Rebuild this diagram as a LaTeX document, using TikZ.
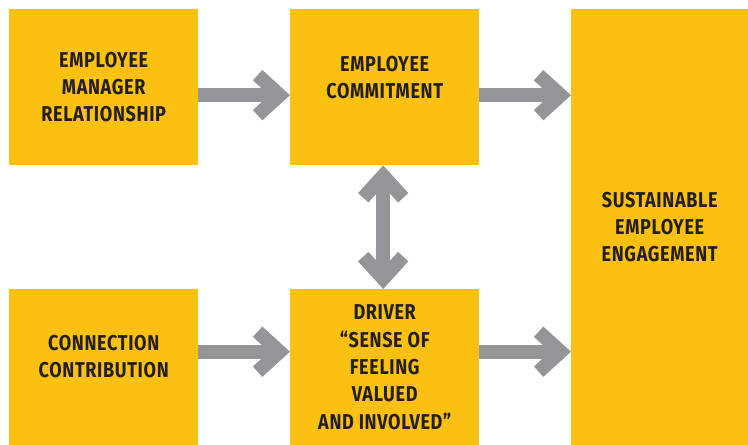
\documentclass[tikz,border=0pt]{standalone}
\usepackage{fontspec}
\setmainfont{Fira Sans}[FakeStretch=0.84, LetterSpace=3]
\usetikzlibrary{arrows.meta}

\definecolor{boxyellow}{HTML}{FCC010}
\definecolor{arrowgray}{HTML}{939598}
\definecolor{boxtext}{HTML}{231F20}

\tikzset{chevron/.tip={Straight Barb[length=22pt, width=40pt]}}

\begin{document}
\begin{tikzpicture}[
		x=1pt, y=-1pt,
		box/.style={fill=boxyellow, anchor=north west, inner sep=0pt,
			minimum width=189pt, minimum height=156pt,
			align=center, text=boxtext,
			font=\bfseries\fontsize{21.5}{27.3}\selectfont},
		link/.style={draw=arrowgray, line width=14pt, -chevron},
		twoway/.style={draw=arrowgray, line width=14pt, chevron-chevron}
		]
		\useasboundingbox (0,0) rectangle (748,445);

		% top row
		\node[box] (rel) at (9,9) {EMPLOYEE\\MANAGER\\RELATIONSHIP};
		\node[box, text depth=20pt] (commit) at (290,9) {EMPLOYEE\\COMMITMENT};
		% tall box on the right
		\node[box, minimum width=177pt, minimum height=436pt] (sustain) at (571,9)
			{SUSTAINABLE\\EMPLOYEE\\ENGAGEMENT};
		% bottom row
		\node[box, text depth=22pt] (conn) at (9,289) {CONNECTION\\CONTRIBUTION};
		\node[box] (driver) at (290,289)
			{DRIVER\\“SENSE OF\\FEELING\\VALUED\\AND INVOLVED”};

		\draw[link] ([yshift=-8pt]rel.east) -- ([yshift=-8pt]commit.west);
		\draw[link] ([yshift=-8pt]commit.east) -- ([yshift=-8pt]commit.east -| sustain.west);
		\draw[link] ([yshift=15.5pt]conn.east) -- ([yshift=15.5pt]driver.west);
		\draw[link] ([yshift=15.5pt]driver.east) -- ([yshift=15.5pt]driver.east -| sustain.west);
		\draw[twoway] ([xshift=-1.5pt]commit.south) -- ([xshift=-1.5pt]driver.north);
	\end{tikzpicture}
\end{document}
